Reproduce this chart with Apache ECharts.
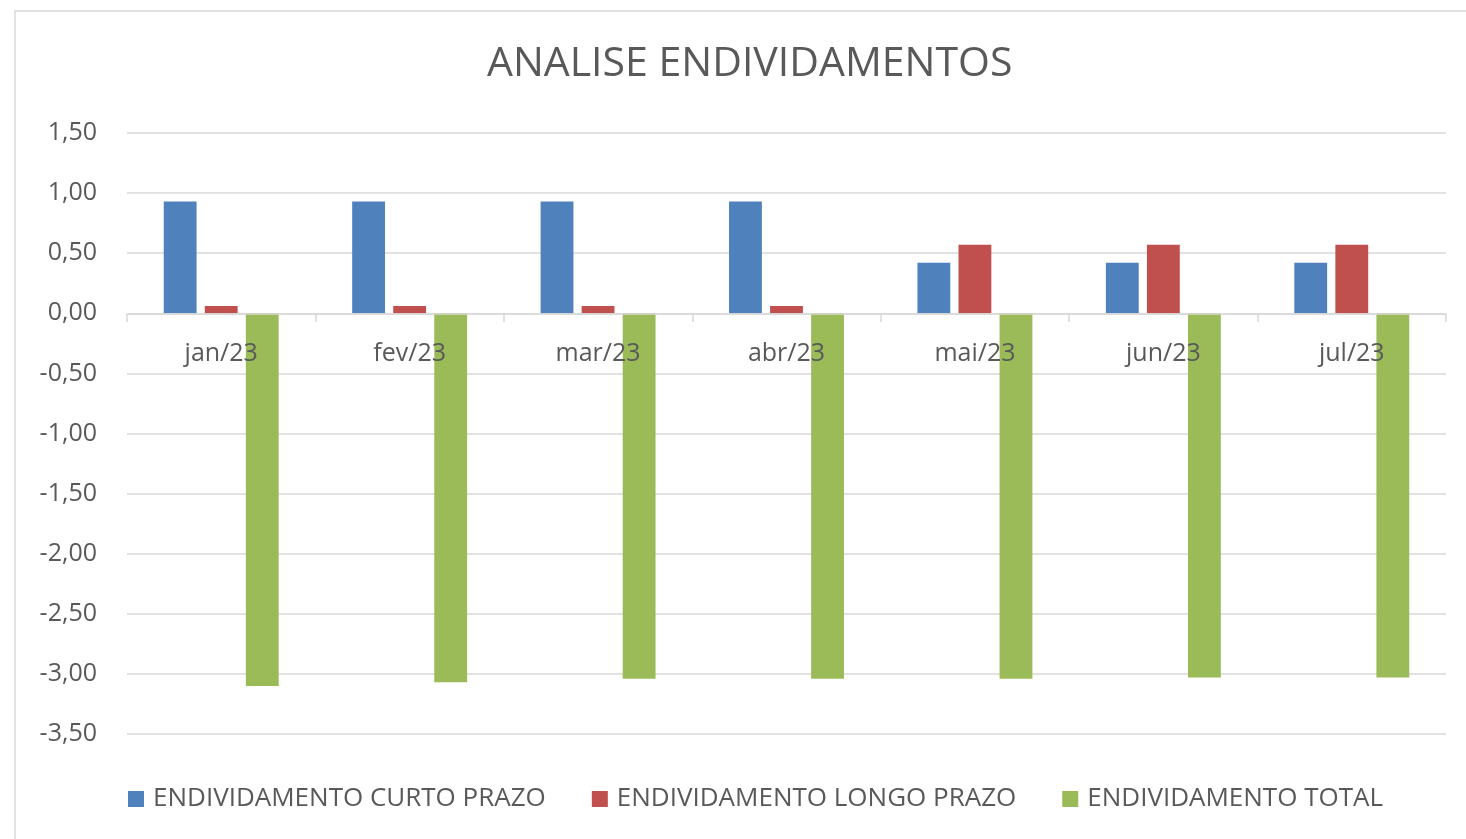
<!DOCTYPE html>
<html>
<head>
<meta charset="utf-8">
<script src="https://cdn.jsdelivr.net/npm/echarts@6/dist/echarts.min.js"></script>
<style>
html,body{margin:0;padding:0;background:#fff;}
#chart{width:1466px;height:839px;}
</style>
</head>
<body>
<div id="chart"></div>
<script>
const categories = ['jan/23','fev/23','mar/23','abr/23','mai/23','jun/23','jul/23'];
const curtoPrazo = [0.93, 0.93, 0.93, 0.93, 0.42, 0.42, 0.42];
const longoPrazo = [0.06, 0.06, 0.06, 0.06, 0.57, 0.57, 0.57];
const total = [-3.10, -3.07, -3.04, -3.04, -3.04, -3.03, -3.03];
const seriesNames = ['ENDIVIDAMENTO CURTO PRAZO','ENDIVIDAMENTO LONGO PRAZO','ENDIVIDAMENTO TOTAL'];
const colors = ['#4f81bd','#c0504d','#9bbb59'];

const font = '"Open Sans", "Liberation Sans", sans-serif';
const chart = echarts.init(document.getElementById('chart'));
const mk = (name, data, color) => ({
  name, type: 'bar', data,
  itemStyle: { color },
  barGap: '25%', barCategoryGap: '39%'
});
chart.setOption({
  animation: false,
  textStyle: { fontFamily: font },
  graphic: [{
    type: 'rect', shape: { x: 15, y: 11, width: 1500, height: 900 },
    style: { fill: 'none', stroke: '#d9d9d9', lineWidth: 1.5 }, silent: true, z: -10
  }],
  title: {
    text: 'ANALISE ENDIVIDAMENTOS', left: 482, top: 39,
    textStyle: { fontFamily: font, fontSize: 41, fontWeight: 'normal', color: '#595959' }
  },
  legend: {
    bottom: 22, left: 123, itemGap: 46, itemWidth: 16, itemHeight: 16, icon: 'rect',
    textStyle: { fontFamily: font, fontSize: 26, color: '#595959', padding: [0, 0, 0, 4] }
  },
  grid: { left: 127, right: 20, top: 133, bottom: 105 },
  xAxis: {
    type: 'category', data: categories, z: 5,
    offset: -420,
    axisLine: { onZero: false, lineStyle: { color: '#d9d9d9', width: 1.5 } },
    axisTick: { show: true, length: 8, lineStyle: { color: '#d9d9d9', width: 1.5 } },
    axisLabel: { fontFamily: font, fontSize: 25, color: '#595959', margin: 27 }
  },
  yAxis: {
    type: 'value', min: -3.5, max: 1.5, interval: 0.5,
    axisLine: { show: false }, axisTick: { show: false },
    splitLine: { lineStyle: { color: '#d9d9d9', width: 1.5 } },
    axisLabel: {
      fontFamily: font, fontSize: 25, color: '#595959', margin: 30,
      formatter: v => v.toFixed(2).replace('.', ',')
    }
  },
  series: [
    mk(seriesNames[0], curtoPrazo, colors[0]),
    mk(seriesNames[1], longoPrazo, colors[1]),
    mk(seriesNames[2], total, colors[2])
  ]
});
</script>
</body>
</html>
